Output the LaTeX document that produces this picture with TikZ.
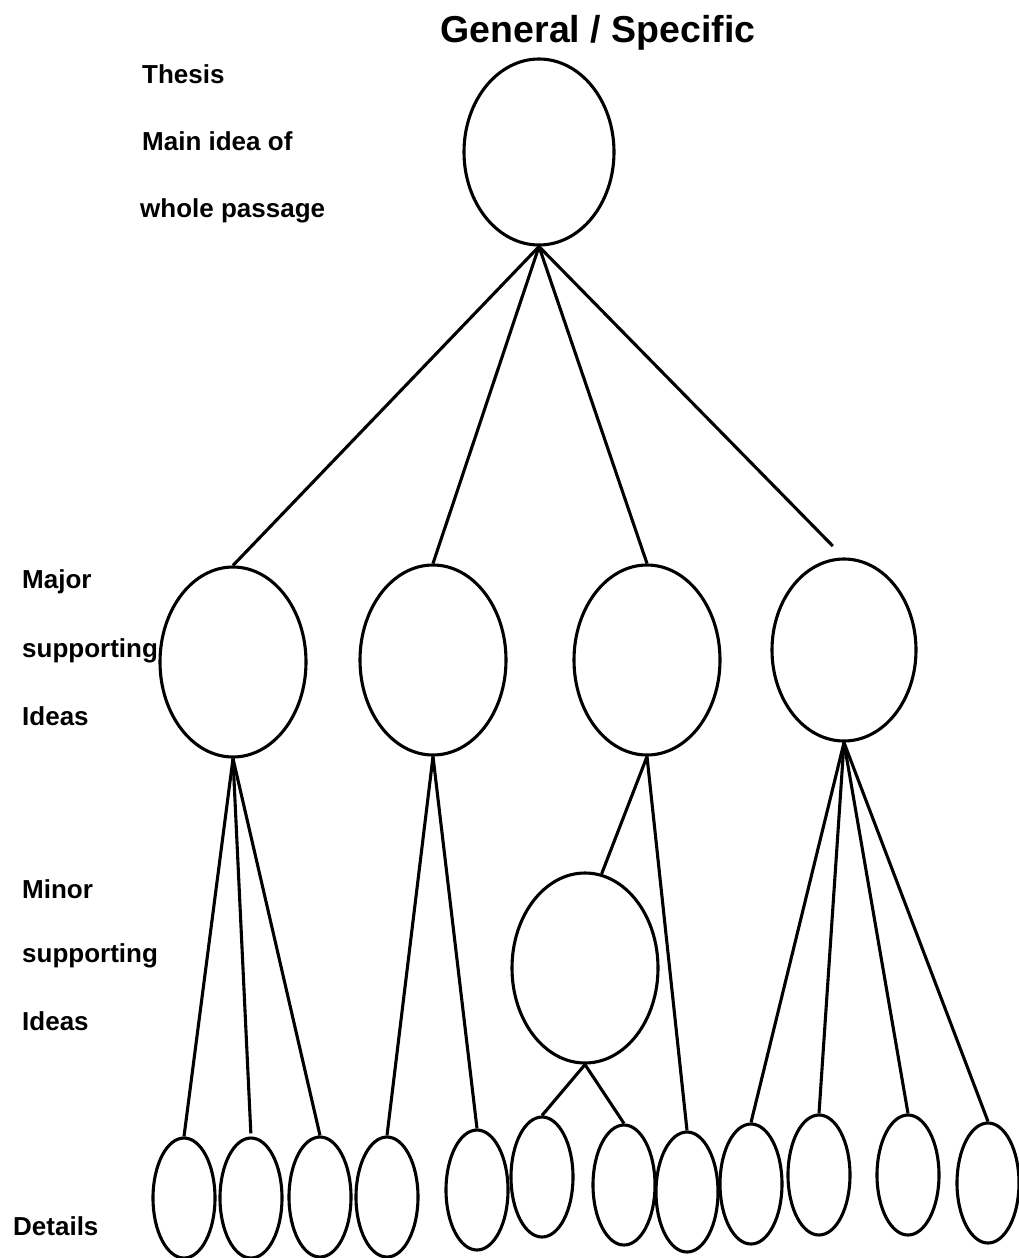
\documentclass[tikz,border=0pt]{standalone}
\usepackage{fontspec}
\setmainfont{Liberation Sans}
\usetikzlibrary{shapes.geometric}
\begin{document}
\begin{tikzpicture}[x=1pt,y=-1pt,
  bubble/.style={draw, ellipse, line width=3.1pt, inner sep=0pt},
  idea/.style={bubble, minimum width=146pt, minimum height=190pt},
  detail/.style={bubble, minimum width=62pt, minimum height=120pt},
  link/.style={line width=3.1pt},
  lbl/.style={anchor=base west, inner sep=0pt, font=\bfseries\fontsize{26}{30}\selectfont},
  ttl/.style={anchor=base, inner sep=0pt, font=\bfseries\fontsize{37.5}{42}\selectfont}]
\useasboundingbox (0,0) rectangle (1018,1258);

% heading and level labels
\node[ttl] (title) at (598,42) {General / Specific};
\node[lbl] (l1) at (142,83) {Thesis};
\node[lbl] (l2) at (142,150) {Main idea of};
\node[lbl] (l3) at (140,217) {whole passage};
\node[lbl] (l4) at (22,588) {Major};
\node[lbl] (l5) at (22,657) {supporting};
\node[lbl] (l6) at (22,725) {Ideas};
\node[lbl] (l7) at (22,898) {Minor};
\node[lbl] (l8) at (22,962) {supporting};
\node[lbl] (l9) at (22,1030) {Ideas};
\node[lbl] (l10) at (13,1235) {Details};

% thesis
\node[bubble, minimum width=150pt, minimum height=186pt] (T) at (539,152) {};

% major supporting ideas
\node[idea] (M1) at (233,662) {};
\node[idea] (M2) at (433,660) {};
\node[idea] (M3) at (647,660) {};
\node[bubble, minimum width=144pt, minimum height=182pt] (M4) at (844,650) {};

% minor supporting idea
\node[idea] (Mi) at (585,968) {};

% details
\node[detail] (D1) at (184,1198) {};
\node[detail] (D2) at (251,1198) {};
\node[detail] (D3) at (320,1197) {};
\node[detail] (D4) at (387,1197) {};
\node[detail] (D5) at (477,1190) {};
\node[detail] (D6) at (542,1177) {};
\node[detail] (D7) at (624,1185) {};
\node[detail] (D8) at (687,1192) {};
\node[detail] (D9) at (751,1184) {};
\node[detail] (D10) at (819,1175) {};
\node[detail] (D11) at (908,1175) {};
\node[detail] (D12) at (988,1183) {};

% connectors
\draw[link] (T.south) -- (M1.north);
\draw[link] (T.south) -- (M2.north);
\draw[link] (T.south) -- (M3.north);
\draw[link, shorten >=16pt] (T.south) -- (M4.north);

\draw[link] (M1.south) -- (D1.north);
\draw[link, shorten >=3pt] (M1.south) -- (D2.north);
\draw[link] (M1.south) -- (D3.north);

\draw[link] (M2.south) -- (D4.north);
\draw[link] (M2.south) -- (D5.north);

\draw[link] (M3.south) -- (Mi.80);
\draw[link] (M3.south) -- (D8.north);

\draw[link] (Mi.south) -- (D6.north);
\draw[link] (Mi.south) -- (D7.north);

\draw[link] (M4.south) -- (D9.north);
\draw[link] (M4.south) -- (D10.north);
\draw[link] (M4.south) -- (D11.north);
\draw[link] (M4.south) -- (D12.north);
\end{tikzpicture}
\end{document}
